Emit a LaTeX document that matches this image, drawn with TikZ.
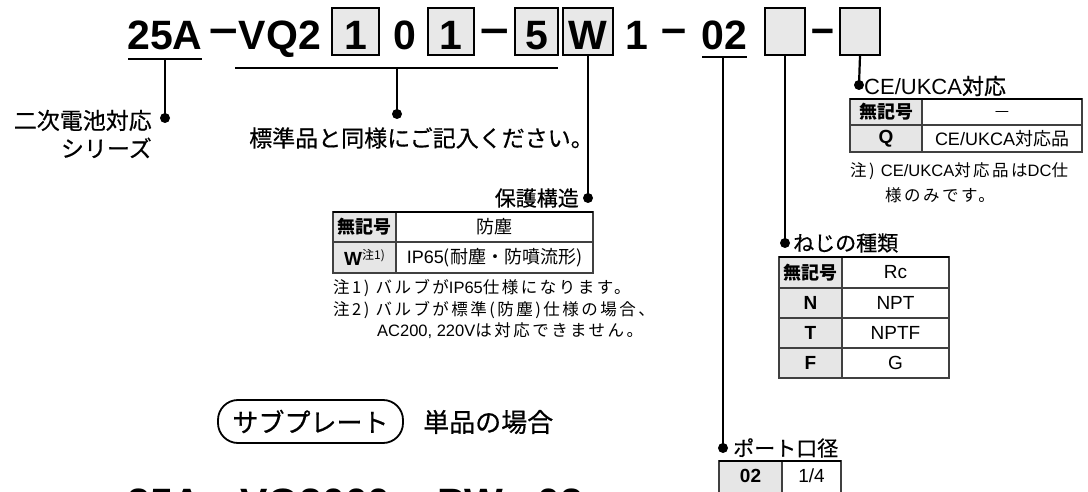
\documentclass[tikz,border=0pt]{standalone}
\usepackage{fontspec}
\setmainfont{Liberation Sans}
\newfontfamily\jp{Noto Sans CJK JP}
\newfontfamily\jpm{Noto Sans CJK JP}[FakeBold=0.5]
\newfontfamily\jpn{Noto Sans CJK JP}[LetterSpace=15]
\definecolor{boxgray}{HTML}{E8E8E8}
\definecolor{hdrgray}{HTML}{E6E6E6}
\tikzset{
  conn/.style={line width=2.2pt},
  dotn/.style={circle, fill, inner sep=0pt, minimum size=10pt},
  codebox/.style={draw, line width=1.8pt, fill=boxgray, minimum height=47pt, inner sep=0pt},
  code/.style={font=\fontsize{41}{41}\selectfont\bfseries, inner sep=0pt, anchor=base},
  codedash/.style={font=\fontsize{41}{41}\selectfont\bfseries, inner sep=0pt, anchor=base},
  uline/.style={line width=2.2pt},
  lab/.style={font=\jpm\fontsize{23}{28}\selectfont, inner sep=0pt},
  head/.style={font=\jpm\fontsize{21}{24}\selectfont, inner sep=0pt},
  cell/.style={font=\fontsize{19}{20}\selectfont, inner sep=0pt},
  jcell/.style={font=\jp\fontsize{18}{20}\selectfont, inner sep=0pt},
  jbcell/.style={font=\jp\bfseries\fontsize{18}{20}\selectfont, inner sep=0pt},
  bcell/.style={font=\bfseries\fontsize{19}{20}\selectfont, inner sep=0pt},
  note/.style={font=\jpn\fontsize{16.5}{20}\selectfont, inner sep=0pt, anchor=west},
  tline/.style={line width=1.2pt, draw=black!75},
  trule/.style={line width=2.6pt},
  hdr/.style={fill=hdrgray},
}
\begin{document}
\begin{tikzpicture}[x=1pt,y=-1pt]
\useasboundingbox (0,0) rectangle (1088,492);
\clip (0,0) rectangle (1088,492);
\fill[white] (0,0) rectangle (1088,492);

% ---------- top code line ----------
\node[code] (t25a) at (165,50) {25A};
\node[codedash] (tm1) at (224,44) {\scalebox{1.25}[1.1]{–}};
\node[code] (tvq) at (280,50) {VQ2};
\node[codebox, minimum width=47pt] (b1) at (355.5,31.5) {};
\node[code] (t1) at (355.5,50) {1};
\node[code] (t0) at (405,50) {0};
\node[codebox, minimum width=46pt] (b1b) at (451,31.5) {};
\node[code] (t1b) at (451,50) {1};
\node[codedash] (tm2) at (495,44) {\scalebox{1.25}[1.1]{–}};
\node[codebox, minimum width=43pt] (b5) at (536.5,31.5) {};
\node[code] (t5) at (536.5,50) {5};
\node[codebox, minimum width=50pt] (bW) at (588,31.5) {};
\node[code] (tW) at (588,50) {W};
\node[code] (tone) at (637,50) {1};
\node[codedash] (tm3) at (674,44) {\scalebox{1.1}[1.1]{–}};
\node[code] (t02) at (724.5,50) {02};
\node[codebox, minimum width=40pt] (be1) at (785,31.5) {};
\node[codedash] (tm4) at (822.5,44) {\scalebox{1.0}[1.1]{–}};
\node[codebox, minimum width=40pt] (be2) at (860,31.5) {};

% underlines
\coordinate (u25l) at (128,59); \coordinate (u25r) at (202,59);
\draw[uline] (u25l) -- (u25r);
\coordinate (uvql) at (235,68); \coordinate (uvqr) at (558,68);
\draw[uline] (uvql) -- (uvqr);
\coordinate (u02l) at (702,57); \coordinate (u02r) at (747,57);
\draw[uline] (u02l) -- (u02r);

% ---------- connectors and dots ----------
\coordinate (c25) at (165,59);
\node[dotn] (d25) at (165,118) {};
\draw[conn] (c25) -- (d25.center);

\coordinate (cvq) at (397,68);
\node[dotn] (dvq) at (397,114) {};
\draw[conn] (cvq) -- (dvq.center);

\node[dotn] (dW) at (588,198) {};
\draw[conn] (bW.south) -- (dW.center);

\coordinate (c02) at (723,57);
\node[dotn] (d02) at (723,448) {};
\draw[conn] (c02) -- (d02.center);

\node[dotn] (de1) at (785,243) {};
\draw[conn] (be1.south) -- (de1.center);

\node[dotn] (de2) at (859,85) {};
\draw[conn] (be2.south) -- (de2.center);

% ---------- labels ----------
\node[lab, align=right, anchor=east] (l25) at (152,134) {二次電池対応\\シリーズ};
\node[lab, anchor=west] (lvq) at (249,138) {標準品と同様にご記入ください。};

% ---------- 保護構造 ----------
\node[head, anchor=east] (hW) at (579,198) {保護構造};
\fill[hdr] (333,212) rectangle (396,273);
\draw[tline] (333,212) rectangle (593,273);
\draw[tline] (333,242) -- (593,242);
\draw[tline] (396,212) -- (396,273);
\draw[trule] (333,212) -- (593,212);
\node[jbcell] (w11) at (364.5,227) {無記号};
\node[jcell] (w12) at (494.5,227) {防塵};
\node[bcell] (w21) at (364.5,257.5) {W\raisebox{6pt}{\jp\mdseries\fontsize{12}{12}\selectfont 注1)}};
\node[cell] (w22) at (494.5,257.5) {\fontsize{18}{20}\selectfont IP65{\jp (耐塵・防噴流形)}};
\node[note] (wn1) at (333,288) {注1) バルブが{\rmfamily IP65}仕様になります。};
\node[note] (wn2) at (333,310) {注2) バルブが標準(防塵)仕様の場合、};
\node[note] (wn3) at (377,331) {{\rmfamily AC200, 220V}は対応できません。};

% ---------- CE/UKCA ----------
\node[font=\fontsize{22}{24}\selectfont, inner sep=0pt, anchor=west] (hCE) at (864,86) {CE/UKCA{\jpm 対応}};
\fill[hdr] (850,99) rectangle (922,152);
\draw[tline] (850,99) rectangle (1082,152);
\draw[tline] (850,125) -- (1082,125);
\draw[tline] (922,99) -- (922,152);
\draw[trule] (850,99) -- (1082,99);
\node[jbcell] (c11) at (886,112) {無記号};
\node[jcell] (c12) at (1002,114) {\fontsize{16}{16}\selectfont —};
\node[bcell] (c21) at (886,138.5) {Q};
\node[cell] (c22) at (1002,138.5) {\fontsize{18}{20}\selectfont CE/UKCA{\jp 対応品}};
\node[note] (cn1) at (850,171) {注) {\rmfamily CE/UKCA}対応品は{\rmfamily DC}仕};
\node[note] (cn2) at (885,195) {様のみです。};

% ---------- ねじの種類 ----------
\node[head, anchor=west] (hT) at (793,243) {ねじの種類};
\fill[hdr] (779,257) rectangle (842,378);
\draw[tline] (779,257) rectangle (949,378);
\draw[tline] (779,288) -- (949,288);
\draw[tline] (779,318) -- (949,318);
\draw[tline] (779,348) -- (949,348);
\draw[tline] (842,257) -- (842,378);
\draw[trule] (779,257) -- (949,257);
\node[jbcell] (n11) at (810.5,272.5) {無記号};
\node[cell] (n12) at (895.5,272.5) {Rc};
\node[bcell] (n21) at (810.5,303) {N};
\node[cell] (n22) at (895.5,303) {NPT};
\node[bcell] (n31) at (810.5,333) {T};
\node[cell] (n32) at (895.5,333) {NPTF};
\node[bcell] (n41) at (810.5,363) {F};
\node[cell] (n42) at (895.5,363) {G};

% ---------- ポート口径 ----------
\node[head, anchor=west] (hP) at (733,448) {ポート口径};
\fill[hdr] (719,461) rectangle (782,520);
\draw[tline] (719,461) rectangle (841,520);
\draw[tline] (782,461) -- (782,520);
\draw[trule] (719,461) -- (841,461);
\node[bcell] (p11) at (750.5,476) {02};
\node[cell] (p12) at (811.5,476) {1/4};

% ---------- サブプレート ----------
\node[draw, line width=1.8pt, rounded corners=20pt, minimum width=185pt, minimum height=43pt,
      font=\jpm\fontsize{26}{26}\selectfont, inner sep=0pt] (sub) at (310.5,421.5) {サブプレート};
\node[font=\jpm\fontsize{26}{26}\selectfont, inner sep=0pt, anchor=west] (single) at (423,422) {単品の場合};

% ---------- bottom code line (cut off) ----------
\node[code] (s25a) at (165,517) {25A};
\node[codedash] (sm1) at (224,511) {\scalebox{1.25}[1.1]{–}};
\node[code, anchor=base west] (svq) at (240,517) {VQ2000};
\node[codedash] (sm2) at (418,511) {\scalebox{1.25}[1.1]{–}};
\node[code, anchor=base west] (spw) at (437,517) {PW};
\node[codedash] (sm3) at (518,511) {\scalebox{1.25}[1.1]{–}};
\node[code, anchor=base west] (s02) at (537,517) {02};
\end{tikzpicture}
\end{document}
